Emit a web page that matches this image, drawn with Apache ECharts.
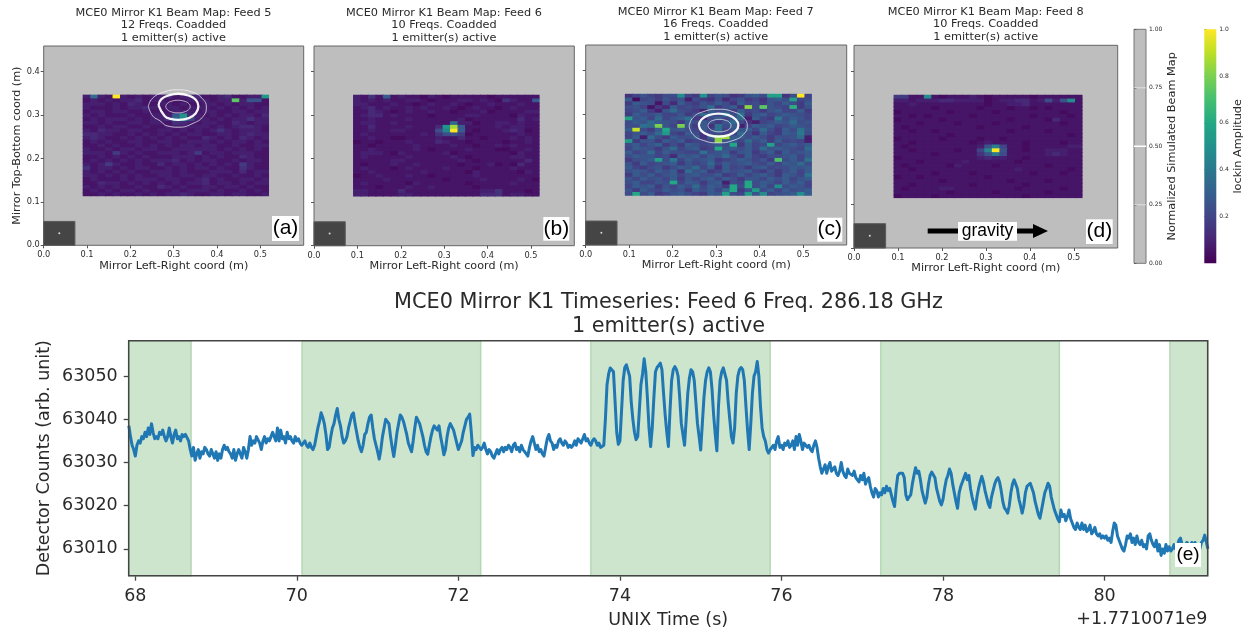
<!DOCTYPE html>
<html><head><meta charset="utf-8">
<style>html,body{margin:0;padding:0;background:#fff}#c{width:1250px;height:633px;filter:blur(0.45px)}</style>
<script src="https://cdn.jsdelivr.net/npm/echarts@6/dist/echarts.min.js"></script>
</head><body><div id="c"></div>
<script>
// Beam maps: 27 rows (top to bottom) x 25 columns, each char = level 0..z => 0..1
const mapA = [
"3c32z 32323 34233 42234 2233j","23232 33423 32223 33233 q3992","33323 24322 33232 23323 23322",
"32223 23343 23323 33232 32323","23323 32232 22333 23322 33233","32322 23223 33ai4 32323 23324",
"23233 32323 35ch7 33232 33533","33232 23323 32543 23322 43233","22323 32232 23333 33232 34432",
"32433 23322 33232 32353 23332","44332 23232 32323 32233 23433","34322 32323 23232 24323 24323",
"23232 23322 33223 33232 33232","22323 22323 23233 23322 32233","32232 33233 22333 33323 23232",
"33326 32322 33323 62332 33322","22323 23232 22333 23232 24322","23232 32323 33423 23322 32332",
"32363 22322 42332 32323 26322","52332 32332 23232 33232 25322","32323 23223 33232 22333 24233",
"33232 32322 33233 23322 32232","23222 32333 23322 34232 23323","22433 23232 32323 34233 23233",
"32323 22322 43232 23323 32322","23232 33232 22323 33232 23232","22323 22323 23343 22332 33223"];
const mapB = [
"3252a 23221 32122 22212 22222","32323 22332 12223 32321 5322a","33222 32212 32232 12232 22322",
"23423 22323 22321 23221 23222","22432 12322 32212 22312 22233","23442 32222 12222 33222 21322",
"22322 22322 22223 12222 22423","23322 32222 222c3 31223 32322","22422 22322 24iua 22223 23322",
"22322 33222 28gza 21222 34312","23222 22223 25886 12222 22322","22322 11222 23224 22122 23232",
"12212 22322 24322 12222 12232","22122 22232 22232 21223 23222","22322 22232 12222 32221 12232",
"23332 13222 22312 22222 21322","23222 22322 22232 12222 23322","22222 33222 22223 21222 22242",
"21222 32232 22221 22231 21422","23222 12322 22322 21222 23222","22322 22223 22222 13222 22132",
"12232 22322 12222 23222 22222","22223 22222 22122 22322 22321","23222 22132 22222 12222 23222",
"22212 22322 32222 21222 22222","33222 24222 22222 22335 22212","33222 23322 22222 22445 23322"];
const mapC = [
"57976 88h76 i7985 69a8k k58z7","a1786 97938 65847 96759 a8k78","6a982 84a76 97a85 a7869 7a86a",
"89726 4a787 9c68a 5t8q9 87m69","78a63 9c876 3a896 a7869 a77a6","6a88a 77968 ca7f8 d69a7 8a987",
"k9a7c 79ad6 48a79 c3a76 e8a97","8a9ca 986a8 a869c 85378 a9c89","88dcs 97s96 a5d8a 37a9a 78a98",
"aw86a l9a87 a7d79 9a7c8 6a8d9","79a8c j76a8 58876 c85a7 6a9e8","7a3c8 6a88a 5atua a8a86 989c3",
"j6996 a8a67 77t9a 7c8a6 a7873","8a79b 686a9 78a8l 6a78k 79a8a","7a986 9c79a 67l9a 8a7c9 a987c",
"a78c7 a8877 d89a6 9a68a 6a89a","8a997 84a9a 7a9c8 6a768 89a7a","689ak 8e7a8 9a678 a9796 p8a7d",
"96a78 9a697 8c7a8 9a87a 7a9c8","a7689 68a9c 7a5a7 869a7 88a9a","8a97a 8a5c9 a67a8 9a769 68a7a",
"6a8a7 9a79a 88a67 a79a8 6a97d","97a89 7a697 9a7a8 6997a 8a79a","8a779 8l7a9 69a38 7l8a9 7a8a7",
"7a9a6 97a8c 7a96l 8l8a7 h8a97","96a87 a896a 8a7cl 69j8a 7a89a","8l8a6 79a87 6a9k8 7j9h7 89aha"];
const mapD = [
"6622h 21222 32122 22212 22222","33233 34433 33123 34423 839h2","22322 22222 22122 33422 22222",
"22222 12222 21222 12212 12222","12222 22122 22212 22222 22122","22121 22222 12222 22212 22212",
"12222 21222 22222 12222 14222","22212 22212 22212 22222 22122","21222 22222 21222 22122 22222",
"22122 12222 22222 12222 12222","22222 22122 22222 22222 22212","12222 21222 21221 22222 22222",
"22122 22222 12322 22122 22122","21222 22222 239f7 22122 22233","22122 22212 27gz9 22122 33322",
"22222 12222 259e8 22222 34322","12222 22222 23433 22122 22222","22212 22223 22222 21222 22222",
"21222 22132 22212 22222 12222","22122 22222 22222 23222 22212","22222 12222 12222 22212 22122",
"12212 22222 22122 22222 22222","22222 21222 22222 12222 12222","22122 22222 12222 22122 22222",
"21222 23322 22222 21222 22122","22222 22122 22212 22222 12222","12222 12222 22222 22122 22222"];
const mapXRange = [0.09, 0.52];
const mapYRange = [0.113, 0.347];
const detectorBox = [0, 0, 0.072, 0.055];
const detectorDot = [0.036, 0.028];
// Simulated beam contours (metres)
const contourA90 = [[0.2815,0.3195],[0.2854,0.3268],[0.2957,0.3321],[0.3098,0.334],[0.3239,0.3321],[0.3342,0.3268],[0.338,0.3195],[0.3342,0.3123],[0.3239,0.307],[0.3098,0.305],[0.2957,0.307],[0.2854,0.3123],[0.2815,0.3195]];
const contourA50 = [[0.265,0.322],[0.271,0.336],[0.288,0.345],[0.311,0.349],[0.334,0.345],[0.351,0.335],[0.357,0.32],[0.351,0.304],[0.335,0.293],[0.311,0.289],[0.293,0.291],[0.279,0.298],[0.265,0.322]];
const contourA25 = [[0.2415,0.32],[0.2505,0.338],[0.275,0.352],[0.3085,0.358],[0.342,0.353],[0.366,0.338],[0.3754,0.318],[0.368,0.297],[0.345,0.281],[0.312,0.272],[0.285,0.275],[0.268,0.287],[0.2515,0.298],[0.2415,0.32]];
const contourC90 = [[0.281,0.274],[0.2845,0.2812],[0.2943,0.2864],[0.3075,0.2883],[0.3208,0.2864],[0.3305,0.2812],[0.334,0.274],[0.3305,0.2668],[0.3208,0.2616],[0.3075,0.2597],[0.2943,0.2616],[0.2845,0.2668],[0.281,0.274]];
const contourC50 = [[0.26,0.275],[0.2661,0.288],[0.2828,0.298],[0.3055,0.3015],[0.3283,0.298],[0.345,0.288],[0.351,0.275],[0.345,0.262],[0.3283,0.252],[0.3055,0.2485],[0.2828,0.252],[0.2661,0.262],[0.26,0.275]];
const contourC25 = [[0.2377,0.273],[0.2466,0.2923],[0.2712,0.3063],[0.3046,0.3115],[0.338,0.3063],[0.3626,0.2923],[0.3715,0.273],[0.3626,0.2537],[0.338,0.2397],[0.3046,0.2345],[0.2712,0.2397],[0.2466,0.2537],[0.2377,0.273]];
const viridisStops = ['#440154','#482475','#414487','#355f8d','#2a788e','#21918c','#22a884','#44bf70','#7ad151','#bddf26','#fde725'];
const mapTicksX = [0,0.1,0.2,0.3,0.4,0.5];
const mapTicksY = [0,0.1,0.2,0.3,0.4];
const grayTicks = [0,0.25,0.5,0.75,1];
const ampTicks = [0.2,0.4,0.6,0.8,1];

// Time series: detector counts minus 63000, one value per 0.02 s from t0
const countsBase = 63000;
const timeStart = 67.92, timeStep = 0.02;
const segA = [38.5,36,34,33,31.5,34,35,34.5,36,35.5,37,36,38,36.5,39,37,35.5,36,35.5,37,36.5,37.5,36,35,36,38,36,34.5,36.5,37.5,35.5,36,35,36.5,36,36.5,36.5,35,33,31.5];
const segB = [33.5,30.5,32,33,31,32.5,32,33.5,33,32,31.5,33,32,31,32.5,30.5,32,31,33,34,33,33.5,32.5,32,31,33,30.5,32,33,32,31,33.5,32.5,31,33,36,34,35,34.5,36,36,34.5,33,35,36,34.5,35.5,35,36,37,36,35,38,35,37.5,35.5,36,34.5,37,35.5,36,35,34.5,36,35,35.5,34.5,34];
const segC = [34.5,35,34,33.5,34.5,33.5,33,34,36,38,39.5,41.5,40.5,39,36.5,33,33.5,36,38,39,41,42.5,40,38.5,36,34.5,35,36,38,39.5,41,41.5,39,37,35,33.5,32.5,34,36.5,37,39,40.5,41,38,35.5,34,32.5,30.8,33,36,38,40,40.3,39,36,33.5,31.4,34,37,39,41,40.5,39.5,38,36.5,34.5,33.5,32.5,35,38,40.5,40.5,39,37.5,36,34,32.5,31.9,34,36,37.5,38.5,38.7,37.5,38.5,36,34,31.8,33,36,38,39,39.3,37.5,36,34.5,33,32.8,35,37,38.5,40,40.5,41.2,37,31.6,33.5,33,34,33.5,33];
const segD = [33.5,34.5,33,32,33,32.5,31.5,31,32,33,32,33,33.5,32.5,33.5,33,34,33.5,32.5,34,34.5,33,33.5,32.5,34,33,32.5,32,31.5,33.5,35,36,34.5,33,34,32.5,33,32,31.5,33.5,35.5,36.5,35,34.5,33,34,33.5,35,35.5,34.5,34,35,34.5,33.5,34,33.5,34,35,34,35.5,35,34.5,35.5,36.5,35,35.5,34.5,34];
const segE = [35,35.5,35,34,34.5,33.5,33.5,34,40,48,50.5,51.9,51.5,51,44,37,34.2,35,42,49,52,52.6,52.3,50,44,40,37,35.3,36,42,48,50.5,54,51,45,38,33.7,38,45,51,52,52.5,53,51.5,46,41,37,33.7,42,49,51.5,52.2,51.5,50,45,39,36.5,34,40,46,49.5,51.5,51,49,44,39,36,32.9,39,45,49,51,51.9,51,47,41,36.5,32.7,43,49,51,51.9,51.5,49,44,40,36,34.5,38,46,50,51.5,52,51.5,49,43,37.5,33,39,46,50,51,53.4,50,43,38,36,35,33,32.2,33];
const segF = [33,34,33,35,36,33.5,34,33,34.5,34,35,33.5,34,35,33,36,34,36.5,35,33,34.5,34,33.5,34,33,32.5,34,35,33.5,31,29,27.5,28.5,29.5,27.5,29,30,28,28.5,29,27.5,27,28,30,28,27,26.5,28.5,27.5,27.5,27,28,26.5,26,25.5,27,26,27.5,25,26,26.5,24.5,23,22,24,23.5,22,23,22.5];
const segG = [24,23,24.5,23.5,24,22.5,21,19.8,24,27,27.5,27.8,27.5,26.5,22.5,21.4,22,22.5,25,27,28.8,27.5,28,26,23.5,22,20.6,22,25,27,27.8,27.5,26.5,24,22.5,21,20.2,21.5,24,26,27,28.5,27.5,25,23,21,19.4,23,24.5,25.5,26.5,27.5,26,27,24,22,20.5,19.2,22,24,25.5,26.8,25.5,23.5,22,20.5,19.6,22,23.5,25,26,26.5,25.5,23.5,21,19.5,19,18.3,20,23,25,26,25,24,21.5,20,18.3,20,23,24.5,24.5,25.2,25,23,21,19.5,18,17.1,19,21,23,24,25.2,24.5,22,20.5,19,18,17,16.3];
const segH = [19,17.5,18,16.5,17.5,19,17,16,15,14.5,16,15,14.5,16,14.5,15.5,14,14.5,15.5,13.5,14,15,13.5,13,13.5,12.5,13,12.5,13,12,12.5,11.5,14,16,15.5,13,12,11,10,9.5,11,13,12.5,13.5,11.5,12.5,11,13,11.5,11,12,10.5,11,10,13,13.5,12,11,10.5,12,9.5,11,8.5,10,9,11,9.5,10.5,9.5,10,11,10,10.5,12,12.5,11,10,11,11.5,11,10.5,11.5,10,11.5,10.2,11,10,11.5,12,13.2,13,10];
const greenSpans = [[67.918,68.69],[70.064,72.276],[73.64,75.86],[77.23,79.44],[80.81,81.277]];
const timeTicks = [68,70,72,74,76,78,80];
const countTicks = [63010,63020,63030,63040,63050];

const FF = 'DejaVu Sans', INK = '#2a2a2a';
const chart = echarts.init(document.getElementById('c'), null, {renderer:'canvas'});

function hexRgb(h){return [1,3,5].map(i=>parseInt(h.substr(i,2),16));}
function viridis(v){
  const p=Math.max(0,Math.min(1,v))*(viridisStops.length-1), i=Math.min(Math.floor(p),viridisStops.length-2), f=p-i;
  const a=hexRgb(viridisStops[i]), b=hexRgb(viridisStops[i+1]);
  return 'rgb('+a.map((x,k)=>Math.round(x+(b[k]-x)*f)).join(',')+')';
}
const nRows=27,nCols=25;
const dx=(mapXRange[1]-mapXRange[0])/nCols, dy=(mapYRange[1]-mapYRange[0])/nRows;
function cells(rows){
  const out=[];
  rows.forEach((r,ri)=>{
    r.replace(/ /g,'').split('').forEach((ch,ci)=>{
      out.push([mapXRange[0]+(ci+0.5)*dx, mapYRange[1]-(ri+0.5)*dy, parseInt(ch,36)/35, ci, ri]);
    });
  });
  return out;
}
function contourLine(xi,yi,data,w,col){
  return {type:'line',xAxisIndex:xi,yAxisIndex:yi,data,showSymbol:false,symbol:'none',smooth:0.5,silent:true,
    lineStyle:{color:col,width:w},z:6,animation:false};
}
const panels=[
  {map:mapA,g:{left:43.7,top:46,width:260,height:199.3},title:'MCE0 Mirror K1 Beam Map: Feed 5\n12 Freqs. Coadded\n1 emitter(s) active',tx:173.5,ty:6.5,yl:true,contours:[contourA25,contourA50,contourA90]},
  {map:mapB,g:{left:314,top:46,width:260.3,height:199.7},title:'MCE0 Mirror K1 Beam Map: Feed 6\n10 Freqs. Coadded\n1 emitter(s) active',tx:444,ty:6.5},
  {map:mapC,g:{left:585.7,top:45,width:261,height:200},title:'MCE0 Mirror K1 Beam Map: Feed 7\n16 Freqs. Coadded\n1 emitter(s) active',tx:715.7,ty:5.5,contours:[contourC25,contourC50,contourC90]},
  {map:mapD,g:{left:854,top:45.3,width:263.7,height:202.7},title:'MCE0 Mirror K1 Beam Map: Feed 8\n10 Freqs. Coadded\n1 emitter(s) active',tx:985.7,ty:5.5}
];
const grids=[],xAxes=[],yAxes=[],series=[],titles=[];
panels.forEach((p,i)=>{
  grids.push(Object.assign({show:true,backgroundColor:'#bebebe',borderColor:'#666',borderWidth:1},p.g));
  xAxes.push({type:'value',gridIndex:i,min:0,max:0.6,splitLine:{show:false},
    axisLine:{show:false},axisTick:{show:true,length:3,lineStyle:{color:'#555',width:1},customValues:mapTicksX},
    axisLabel:{fontFamily:FF,fontSize:8.2,color:INK,margin:6,customValues:mapTicksX,formatter:v=>v.toFixed(1)},
    name:'Mirror Left-Right coord (m)',nameLocation:'middle',nameGap:15,nameTextStyle:{fontFamily:FF,fontSize:11.2,color:INK}});
  yAxes.push({type:'value',gridIndex:i,min:0,max:0.459,splitLine:{show:false},
    axisLine:{show:false},axisTick:{show:true,length:3,lineStyle:{color:'#555',width:1},customValues:mapTicksY},
    axisLabel:{show:!!p.yl,fontFamily:FF,fontSize:8.2,color:INK,margin:4,customValues:mapTicksY,formatter:v=>v.toFixed(1)},
    name:p.yl?'Mirror Top-Bottom coord (m)':'',nameLocation:'middle',nameGap:21,nameRotate:90,nameTextStyle:{fontFamily:FF,fontSize:11.2,color:INK}});
  series.push({type:'custom',xAxisIndex:i,yAxisIndex:i,data:cells(p.map),silent:true,z:3,animation:false,
    encode:{x:0,y:1},
    renderItem:(params,api)=>{
      const c=api.coord([api.value(0)-dx/2,api.value(1)+dy/2]), s=api.size([dx,dy]);
      const ow=api.value(3)<nCols-1?0.9:0, oh=api.value(4)<nRows-1?0.9:0;
      return {type:'rect',shape:{x:c[0],y:c[1],width:s[0]+ow,height:s[1]+oh},style:{fill:viridis(api.value(2))}};
    }});
  series.push({type:'custom',xAxisIndex:i,yAxisIndex:i,data:[detectorBox],silent:true,z:3,animation:false,
    encode:{x:[0,2],y:[1,3]},
    renderItem:(params,api)=>{
      const a=api.coord([api.value(0),api.value(3)]), b=api.coord([api.value(2),api.value(1)]);
      return {type:'rect',shape:{x:a[0],y:a[1],width:b[0]-a[0],height:b[1]-a[1]},style:{fill:'#454545',stroke:'#5a5a5a',lineWidth:1}};
    }});
  series.push({type:'scatter',xAxisIndex:i,yAxisIndex:i,data:[detectorDot],symbolSize:2,silent:true,z:4,itemStyle:{color:'#fff'},animation:false});
  if(p.contours){
    series.push(contourLine(i,i,p.contours[0],0.9,'rgba(255,255,255,0.75)'));
    series.push(contourLine(i,i,p.contours[1],2.3,'rgba(255,255,255,0.95)'));
    series.push(contourLine(i,i,p.contours[2],0.9,'rgba(255,255,255,0.7)'));
  }
  titles.push({text:p.title,left:p.tx,top:p.ty,padding:0,textAlign:'center',textStyle:{fontFamily:FF,fontSize:11.3,fontWeight:'normal',color:INK,lineHeight:12.6}});
});
// colour bars
function barSeries(idx,fillFn){
  return {type:'custom',xAxisIndex:idx,yAxisIndex:idx,data:[[0,0,1,1]],silent:true,z:3,animation:false,encode:{x:[0,2],y:[1,3]},
    renderItem:(params,api)=>{
      const a=api.coord([0,1]), b=api.coord([1,0]);
      return {type:'rect',shape:{x:a[0],y:a[1],width:b[0]-a[0],height:b[1]-a[1]},style:{fill:fillFn()}};
    }};
}
let gi=4;
grids.push({left:1134,top:29.3,width:12,height:234,show:true,backgroundColor:'#bebebe',borderColor:'#777',borderWidth:1});
xAxes.push({type:'value',gridIndex:gi,min:0,max:1,show:false});
yAxes.push({type:'value',gridIndex:gi,min:0,max:1,position:'right',splitLine:{show:false},
  axisLine:{show:false},axisTick:{show:true,length:2.5,lineStyle:{color:'#555',width:0.8},customValues:grayTicks},
  axisLabel:{fontFamily:FF,fontSize:6,color:INK,margin:3,customValues:grayTicks,formatter:v=>v.toFixed(2)},
  name:'Normalized Simulated Beam Map',nameLocation:'middle',nameRotate:90,nameGap:20,nameTextStyle:{fontFamily:FF,fontSize:11.3,color:INK}});
series.push({type:'line',xAxisIndex:gi,yAxisIndex:gi,data:[[0,0.75],[1,0.75]],symbol:'none',silent:true,z:4,lineStyle:{color:'#e8e8e8',width:0.8},animation:false});
series.push({type:'line',xAxisIndex:gi,yAxisIndex:gi,data:[[0,0.5],[1,0.5]],symbol:'none',silent:true,z:4,lineStyle:{color:'#fff',width:1.6},animation:false});
series.push({type:'line',xAxisIndex:gi,yAxisIndex:gi,data:[[0,0.25],[1,0.25]],symbol:'none',silent:true,z:4,lineStyle:{color:'#e8e8e8',width:0.8},animation:false});
gi=5;
grids.push({left:1204.3,top:29.3,width:12,height:234,show:true,borderColor:'#777',borderWidth:0});
xAxes.push({type:'value',gridIndex:gi,min:0,max:1,show:false});
yAxes.push({type:'value',gridIndex:gi,min:0,max:1,position:'right',splitLine:{show:false},
  axisLine:{show:false},axisTick:{show:true,length:2.5,lineStyle:{color:'#555',width:0.8},customValues:ampTicks},
  axisLabel:{fontFamily:FF,fontSize:6,color:INK,margin:3,customValues:ampTicks,formatter:v=>v.toFixed(1)},
  name:'lockin Amplitude',nameLocation:'middle',nameRotate:90,nameGap:15.5,nameTextStyle:{fontFamily:FF,fontSize:11.3,color:INK}});
series.push(barSeries(gi,()=>new echarts.graphic.LinearGradient(0,1,0,0,viridisStops.map((c,i)=>({offset:i/(viridisStops.length-1),color:c})))));
// time series
gi=6;
const counts=[].concat(segA,segB,segC,segD,segE,segF,segG,segH);
const tsData=counts.map((v,i)=>[timeStart+i*timeStep,countsBase+v]);
grids.push({left:128.7,top:340.7,width:1079,height:235,show:true,backgroundColor:'#fff',borderWidth:0});
xAxes.push({type:'value',gridIndex:gi,min:67.918,max:81.277,splitLine:{show:false},axisLine:{show:false},
  axisTick:{show:true,length:5,lineStyle:{color:'#444',width:1.3},customValues:timeTicks},
  axisLabel:{fontFamily:FF,fontSize:17.5,color:INK,margin:12,customValues:timeTicks,formatter:v=>String(v)},
  name:'UNIX Time (s)',nameLocation:'middle',nameGap:36,nameTextStyle:{fontFamily:FF,fontSize:17.5,color:INK}});
yAxes.push({type:'value',gridIndex:gi,min:63003.8,max:63058.2,splitLine:{show:false},axisLine:{show:false},
  axisTick:{show:true,length:5,lineStyle:{color:'#444',width:1.3},customValues:countTicks},
  axisLabel:{fontFamily:FF,fontSize:17.5,color:INK,margin:11,customValues:countTicks,formatter:v=>String(v)},
  name:'Detector Counts (arb. unit)',nameLocation:'middle',nameRotate:90,nameGap:75,nameMoveOverlap:false,nameTextStyle:{fontFamily:FF,fontSize:17.5,color:INK}});
series.push({type:'line',xAxisIndex:gi,yAxisIndex:gi,data:tsData,symbol:'none',showSymbol:false,silent:true,z:5,animation:false,
  lineStyle:{color:'#1f77b4',width:3,join:'round'},
  markArea:{silent:true,z:1,itemStyle:{color:'#cde4cd',borderColor:'#b4d8b4',borderWidth:1.5},
    data:greenSpans.map(s=>[{xAxis:s[0]},{xAxis:s[1]}])}});
titles.push({text:'MCE0 Mirror K1 Timeseries: Feed 6 Freq. 286.18 GHz\n1 emitter(s) active',left:668.5,top:291,padding:0,textAlign:'center',
  textStyle:{fontFamily:FF,fontSize:20.8,fontWeight:'normal',color:INK,lineHeight:24}});
// annotations
function tag(label,x0,y0,x1,y1,fs){
  return [
    {type:'rect',z:50,silent:true,shape:{x:x0,y:y0,width:x1-x0,height:y1-y0},style:{fill:'#fff'}},
    {type:'text',z:51,silent:true,x:(x0+x1)/2,y:(y0+y1)/2,style:{text:label,fontFamily:'Liberation Sans',fontSize:fs,fill:'#000',textAlign:'center',textVerticalAlign:'middle'}}
  ];
}
const graphic=[].concat(
  [{type:'rect',z:45,silent:true,shape:{x:128.7,y:340.7,width:1079,height:235},style:{fill:'none',stroke:'#444',lineWidth:1.5}}],
  tag('(a)',272,216,299,241,21),tag('(b)',543.3,217,569.3,240.7,21),tag('(c)',817.3,217.7,842.3,241.7,21),tag('(d)',1086,219.3,1112.7,244,21),tag('(e)',1175,543,1201,567,19),
  [{type:'rect',z:50,silent:true,shape:{x:927.7,y:228.5,width:106,height:5},style:{fill:'#000'}},
   {type:'polygon',z:50,silent:true,shape:{points:[[1033,224],[1048,231],[1033,238]]},style:{fill:'#000'}}],
  tag('gravity',958,222,1017,240.7,17.5),
  [{type:'text',z:50,silent:true,x:1207.5,y:619,style:{text:'+1.7710071e9',fontFamily:FF,fontSize:17.5,fill:INK,textAlign:'right',textVerticalAlign:'middle'}}]
);
chart.setOption({animation:false,backgroundColor:'#fff',title:titles,grid:grids,xAxis:xAxes,yAxis:yAxes,series,graphic});
</script></body></html>
